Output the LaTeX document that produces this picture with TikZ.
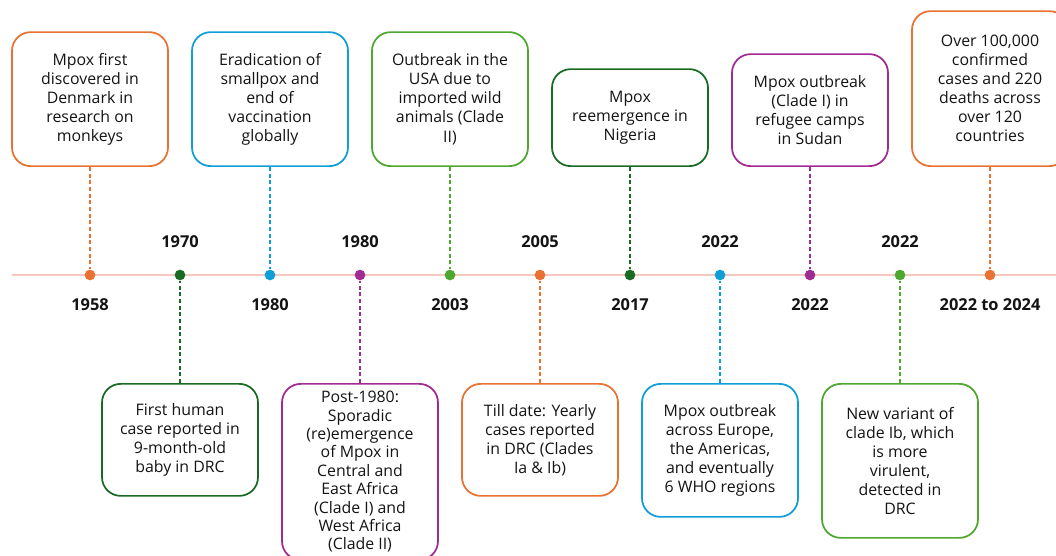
\documentclass[tikz,border=0pt]{standalone}
\usepackage{fontspec}
\setmainfont{Open Sans}
\usetikzlibrary{positioning}

\definecolor{tlorange}{HTML}{E97132}
\definecolor{tlblue}{HTML}{0F9ED5}
\definecolor{tlgreen}{HTML}{4EA72E}
\definecolor{tldkgreen}{HTML}{196B24}
\definecolor{tlpurple}{HTML}{A02B93}
\definecolor{tlline}{HTML}{F6C9C0}
\definecolor{tltext}{HTML}{141414}

\tikzset{
	event/.style={draw, line width=1.3pt, rounded corners=14pt, fill=white, align=center,
		minimum width=117pt, text=tltext, font=\fontsize{11.9}{14.3}\selectfont},
	year/.style={text=tltext, font=\bfseries\fontsize{12.3}{15}\selectfont},
	dot/.style={circle, fill, inner sep=0pt, minimum size=8pt},
	stem/.style={line width=0.9pt, dash pattern=on 3pt off 2pt}
}

\begin{document}
\begin{tikzpicture}[x=0.75pt, y=-0.75pt]
	\useasboundingbox (0,0) rectangle (1056,556);
	\clip (0,0) rectangle (1056,556);
	\fill[white] (0,0) rectangle (1056,556);

	\coordinate (tl-start) at (12,275);
	\coordinate (tl-end) at (1056,275);
	\draw[tlline, line width=1.6pt] (tl-start) -- (tl-end);

	\node[dot, tlorange] (d1) at (90,275) {};
	\node[dot, tldkgreen] (d2) at (180,275) {};
	\node[dot, tlblue] (d3) at (270,275) {};
	\node[dot, tlpurple] (d4) at (360,275) {};
	\node[dot, tlgreen] (d5) at (450,275) {};
	\node[dot, tlorange] (d6) at (540,275) {};
	\node[dot, tldkgreen] (d7) at (630,275) {};
	\node[dot, tlblue] (d8) at (720,275) {};
	\node[dot, tlpurple] (d9) at (810,275) {};
	\node[dot, tlgreen] (d10) at (900,275) {};
	\node[dot, tlorange] (d11) at (990,275) {};

	\node[year] (y1) at (90,305) {1958};
	\node[year] (y2) at (180,242) {1970};
	\node[year] (y3) at (270,305) {1980};
	\node[year] (y4) at (360,242) {1980};
	\node[year] (y5) at (450,305) {2003};
	\node[year] (y6) at (540,242) {2005};
	\node[year] (y7) at (630,305) {2017};
	\node[year] (y8) at (720,242) {2022};
	\node[year] (y9) at (810,305) {2022};
	\node[year] (y10) at (900,242) {2022};
	\node[year] (y11) at (990,305) {2022 to 2024};

	\node[event, draw=tlorange, minimum height=100.5pt, anchor=south] (e1) at (90,167)
		{Mpox first\\discovered in\\Denmark in\\research on\\monkeys};
	\node[event, draw=tldkgreen, minimum height=84pt, anchor=north] (e2) at (180,383)
		{First human\\case reported in\\9-month-old\\baby in DRC};
	\node[event, draw=tlblue, minimum height=100.5pt, anchor=south] (e3) at (270,167)
		{Eradication of\\smallpox and\\end of\\vaccination\\globally};
	\node[event, draw=tlpurple, minimum height=132pt, anchor=north,
		font=\fontsize{11.9}{13.8}\selectfont] (e4) at (360,383)
		{Post-1980:\\Sporadic\\(re)emergence\\of Mpox in\\Central and\\East Africa\\(Clade I) and\\West Africa\\(Clade II)};
	\node[event, draw=tlgreen, minimum height=100.5pt, anchor=south] (e5) at (450,167)
		{Outbreak in the\\USA due to\\imported wild\\animals (Clade\\II)};
	\node[event, draw=tlorange, minimum height=84pt, anchor=north] (e6) at (540,383)
		{Till date: Yearly\\cases reported\\in DRC (Clades\\Ia \& Ib)};
	\node[event, draw=tldkgreen, minimum height=72.75pt, anchor=south] (e7) at (630,167)
		{Mpox\\reemergence in\\Nigeria};
	\node[event, draw=tlblue, minimum height=99.75pt, anchor=north] (e8) at (720,383)
		{Mpox outbreak\\across Europe,\\the Americas,\\and eventually\\6 WHO regions};
	\node[event, draw=tlpurple, minimum height=84pt, anchor=south] (e9) at (810,167)
		{Mpox outbreak\\(Clade I) in\\refugee camps\\in Sudan};
	\node[event, draw=tlgreen, minimum height=115.5pt, anchor=north] (e10) at (900,383)
		{New variant of\\clade Ib, which\\is more\\virulent,\\detected in\\DRC};
	\node[event, draw=tlorange, minimum height=116.25pt, anchor=south] (e11) at (990,167)
		{Over 100,000\\confirmed\\cases and 220\\deaths across\\over 120\\countries};

	\draw[stem, tlorange] (e1) -- (d1);
	\draw[stem, tldkgreen] (e2) -- (d2);
	\draw[stem, tlblue] (e3) -- (d3);
	\draw[stem, tlpurple] (e4) -- (d4);
	\draw[stem, tlgreen] (e5) -- (d5);
	\draw[stem, tlorange] (e6) -- (d6);
	\draw[stem, tldkgreen] (e7) -- (d7);
	\draw[stem, tlblue] (e8) -- (d8);
	\draw[stem, tlpurple] (e9) -- (d9);
	\draw[stem, tlgreen] (e10) -- (d10);
	\draw[stem, tlorange] (e11) -- (d11);
\end{tikzpicture}
\end{document}
